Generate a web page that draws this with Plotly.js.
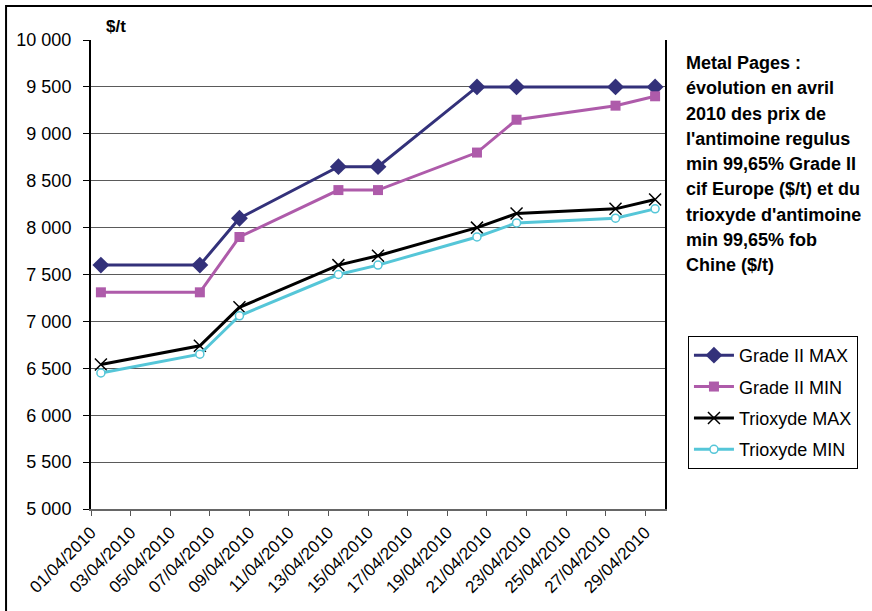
<!DOCTYPE html>
<html>
<head>
<meta charset="utf-8">
<script src="https://cdn.plot.ly/plotly-3.0.1.min.js"></script>
<style>
  html, body { margin: 0; padding: 0; background: #ffffff; }
  #chart { width: 872px; height: 611px; }
</style>
</head>
<body>
<div id="chart"></div>
<script>
// Quotation dates (twice-weekly) for April 2010
const dates = ['2010-04-01', '2010-04-06', '2010-04-08', '2010-04-13', '2010-04-15',
               '2010-04-20', '2010-04-22', '2010-04-27', '2010-04-29'];

// Prices in $/t
const gradeMax    = [7600, 7600, 8100, 8650, 8650, 9500, 9500, 9500, 9500];
const gradeMin    = [7310, 7310, 7900, 8400, 8400, 8800, 9150, 9300, 9400];
const trioxydeMax = [6540, 6740, 7150, 7600, 7700, 8000, 8150, 8200, 8300];
const trioxydeMin = [6450, 6650, 7060, 7500, 7600, 7900, 8050, 8100, 8200];

const seriesNames = ['Grade II MAX', 'Grade II MIN', 'Trioxyde MAX', 'Trioxyde MIN'];

// Axis labels every second day
const tickDays = ['2010-04-01', '2010-04-03', '2010-04-05', '2010-04-07', '2010-04-09',
                  '2010-04-11', '2010-04-13', '2010-04-15', '2010-04-17', '2010-04-19',
                  '2010-04-21', '2010-04-23', '2010-04-25', '2010-04-27', '2010-04-29'];
const tickLabels = ['01/04/2010', '03/04/2010', '05/04/2010', '07/04/2010', '09/04/2010',
                    '11/04/2010', '13/04/2010', '15/04/2010', '17/04/2010', '19/04/2010',
                    '21/04/2010', '23/04/2010', '25/04/2010', '27/04/2010', '29/04/2010'];

// Side caption, one entry per line
const captionLines = [
  'Metal Pages :',
  'évolution en avril',
  '2010 des prix de',
  'l\'antimoine regulus',
  'min 99,65% Grade II',
  'cif Europe ($/t) et du',
  'trioxyde d\'antimoine',
  'min 99,65% fob',
  'Chine ($/t)'
];

// Each day is a band: the tick marks the start of the band, the point sits in its middle
const tickVals = tickDays.map(d => {
  const t = new Date(d + 'T00:00:00Z');
  t.setUTCHours(t.getUTCHours() - 12);
  return t.toISOString().slice(0, 19).replace('T', ' ');
});

const FONT = 'Arial, "Liberation Sans", sans-serif';

const traces = [
  {
    name: seriesNames[0], x: dates, y: gradeMax, type: 'scatter', mode: 'lines+markers',
    legendgroup: 'g1',
    line: { color: '#33317A', width: 3 },
    marker: { symbol: 'diamond', size: 13, color: '#33317A' }
  },
  {
    name: seriesNames[1], x: dates, y: gradeMin, type: 'scatter', mode: 'lines+markers',
    legendgroup: 'g2',
    line: { color: '#AE5BAA', width: 3 },
    marker: { symbol: 'square', size: 10, color: '#AE5BAA' }
  },
  {
    name: seriesNames[2], x: dates, y: trioxydeMax, type: 'scatter', mode: 'lines+markers',
    legendgroup: 'g3',
    line: { color: '#000000', width: 3 },
    marker: { symbol: 'x-thin-open', size: 12, color: '#000000', line: { color: '#000000', width: 1.5 } }
  },
  {
    name: seriesNames[3], x: dates, y: trioxydeMin, type: 'scatter', mode: 'lines+markers',
    legendgroup: 'g4',
    line: { color: '#55C6D8', width: 3 },
    marker: { symbol: 'circle', size: 8, color: '#ffffff', line: { color: '#55C6D8', width: 1.5 } }
  }
];

// Caption lines stacked with a fixed step (paper units of the plot height)
const CAPTION_TOP = 0.951;
const CAPTION_STEP = 0.0539;
const captionAnnotations = captionLines.map((line, i) => ({
  xref: 'paper', yref: 'paper', x: 1.033, y: CAPTION_TOP - i * CAPTION_STEP,
  xanchor: 'left', yanchor: 'middle', align: 'left', showarrow: false,
  text: '<b>' + line + '</b>',
  font: { family: FONT, size: 18, color: '#000000' }
}));

const layout = {
  width: 872,
  height: 611,
  margin: { l: 91, r: 207, t: 40, b: 102 },
  paper_bgcolor: '#ffffff',
  plot_bgcolor: '#ffffff',
  separators: ', ',
  font: { family: FONT, color: '#000000', size: 17 },
  showlegend: true,
  legend: {
    x: 1.04, xanchor: 'left', y: 0.369, yanchor: 'top',
    bordercolor: '#000000', borderwidth: 1, bgcolor: '#ffffff',
    font: { family: FONT, size: 18, color: '#000000' },
    itemwidth: 40,
    tracegroupgap: 5
  },
  xaxis: {
    type: 'date',
    range: ['2010-03-31 12:00', '2010-04-29 12:00'],
    tickmode: 'array',
    tickvals: tickVals,
    ticktext: tickLabels,
    tickangle: -45,
    ticks: 'outside', ticklen: 5, tickwidth: 1, tickcolor: '#555555',
    showgrid: false,
    showline: true, linecolor: '#666666', linewidth: 2,
    zeroline: false,
    tickfont: { family: FONT, size: 17, color: '#000000' }
  },
  yaxis: {
    range: [5000, 10000],
    tickmode: 'linear', tick0: 5000, dtick: 500,
    separatethousands: true,
    tickformat: ',d',
    ticks: 'outside', ticklen: 6, tickwidth: 1, tickcolor: '#000000',
    ticklabelstandoff: 8,
    showgrid: true, gridcolor: '#5a5a5a', gridwidth: 1,
    showline: true, linecolor: '#000000', linewidth: 2, mirror: true,
    zeroline: false,
    tickfont: { family: FONT, size: 18, color: '#000000' }
  },
  annotations: [
    {
      xref: 'paper', yref: 'paper', x: 0.022, y: 1.005, xanchor: 'left', yanchor: 'bottom',
      text: '<b>$/t</b>', showarrow: false,
      font: { family: FONT, size: 17, color: '#000000' }
    }
  ].concat(captionAnnotations),
  shapes: [
    {
      type: 'rect', xref: 'paper', yref: 'paper',
      x0: -0.148, x1: 1.7, y0: -0.3, y1: 1.0725,
      line: { color: '#000000', width: 2 }, fillcolor: 'rgba(0,0,0,0)', layer: 'above'
    }
  ]
};

Plotly.newPlot('chart', traces, layout, { displayModeBar: false, staticPlot: true });
</script>
</body>
</html>
